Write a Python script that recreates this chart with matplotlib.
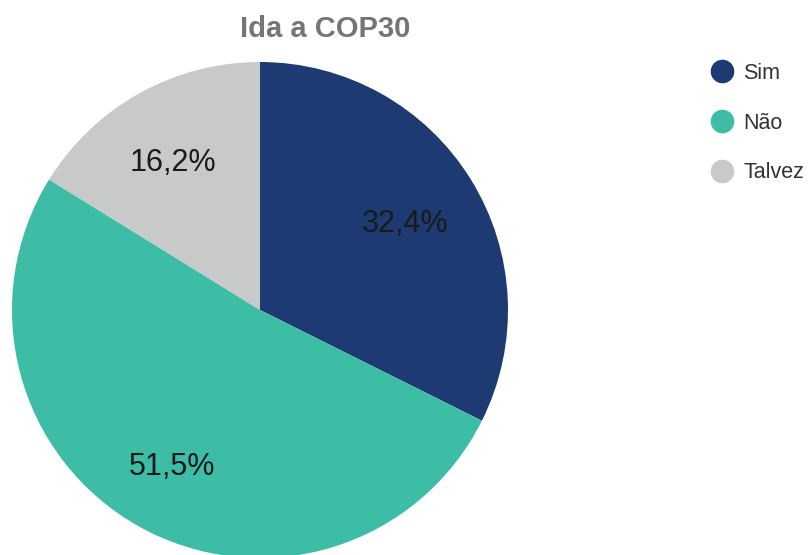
import matplotlib.pyplot as plt
from matplotlib.lines import Line2D

# dados
categorias = ['Sim', 'Não', 'Talvez']
valores = [32.4, 51.5, 16.2]
cores = ['#1e3a72', '#3dbca6', '#c8c9c9']

plt.rcParams['font.family'] = ['Liberation Sans', 'DejaVu Sans']

W, H = 811, 555
fig = plt.figure(figsize=(W / 100, H / 100), dpi=100)

# pie axes: center (260, 310) px, radius 248 px
cx, cy, r = 260, 310, 248
ax = fig.add_axes([(cx - r) / W, (H - cy - r) / H, 2 * r / W, 2 * r / H])

rotulos = iter([f'{v:.1f}'.replace('.', ',') + '%' for v in valores])
wedges, _, autotexts = ax.pie(valores, colors=cores, startangle=90, counterclock=False,
                              autopct=lambda p: next(rotulos), pctdistance=0.7,
                              wedgeprops=dict(linewidth=0))
for t in autotexts:
    t.set_fontsize(22)
    t.set_color('#1a1a1a')
    x, y = t.get_position()
    t.set_position((x - 0.012, y - 0.02))
ax.set_xlim(-1, 1)
ax.set_ylim(-1, 1)
ax.set_aspect('equal')
ax.axis('off')

fig.text(325 / W, 1 - 29 / H, 'Ida a COP30', ha='center', va='center',
         fontsize=21, fontweight='bold', color='#757575')

handles = [Line2D([], [], marker='o', linestyle='', markersize=17, markerfacecolor=c,
                  markeredgewidth=0) for c in cores]
fig.legend(handles, categorias, loc='upper left', bbox_to_anchor=(709 / W, 1 - 63 / H),
           frameon=False, fontsize=15.5, labelspacing=1.33, handlelength=1.2,
           handletextpad=0.4, borderpad=0, borderaxespad=0, labelcolor='#333333')

plt.savefig('out.png', dpi=100)
